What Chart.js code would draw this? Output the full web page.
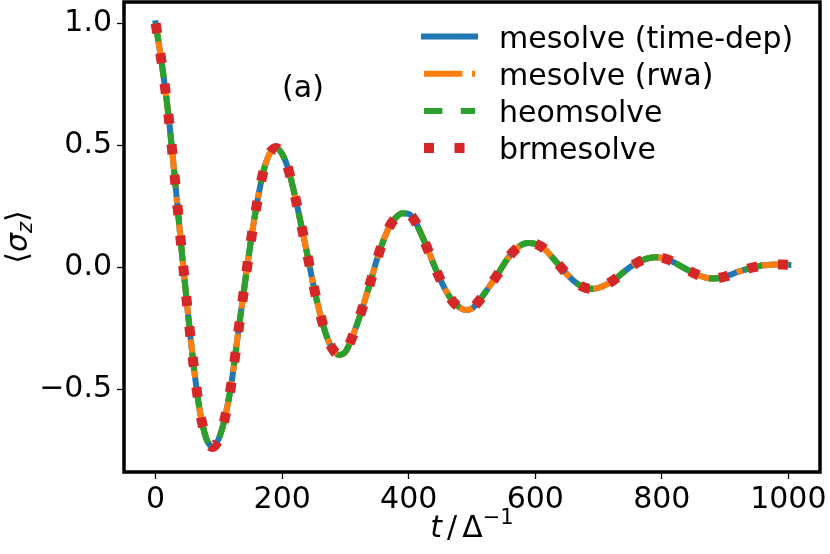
<!DOCTYPE html>
<html>
<head>
<meta charset="utf-8">
<script src="https://cdn.jsdelivr.net/npm/chart.js@4"></script>
<style>
  html, body { margin: 0; padding: 0; background: #fff; }
  canvas { display: block; }
</style>
</head>
<body>
<canvas id="chart" width="830" height="554"></canvas>
<script>
// time in units of 1/Delta
const times = [
  0, 10, 20, 30, 40, 50, 60, 70, 80, 90,
  100, 110, 120, 130, 140, 150, 160, 170, 180, 190,
  200, 210, 220, 230, 240, 250, 260, 270, 280, 290,
  300, 310, 320, 330, 340, 350, 360, 370, 380, 390,
  400, 410, 420, 430, 440, 450, 460, 470, 480, 490,
  500, 510, 520, 530, 540, 550, 560, 570, 580, 590,
  600, 610, 620, 630, 640, 650, 660, 670, 680, 690,
  700, 710, 720, 730, 740, 750, 760, 770, 780, 790,
  800, 810, 820, 830, 840, 850, 860, 870, 880, 890,
  900, 910, 920, 930, 940, 950, 960, 970, 980, 990,
  1000
]

// <sigma_z> (all four solvers agree)
const sigmaZ = [
  1.00, 0.83, 0.63, 0.375, 0.10, -0.16, -0.40, -0.59, -0.70, -0.735,
  -0.70, -0.61, -0.47, -0.275, -0.085, 0.10, 0.26, 0.39, 0.465, 0.49,
  0.465, 0.40, 0.295, 0.175, 0.05, -0.08, -0.19, -0.28, -0.335, -0.358,
  -0.345, -0.29, -0.22, -0.14, -0.055, 0.035, 0.11, 0.17, 0.205, 0.222,
  0.22, 0.19, 0.135, 0.075, 0.01, -0.05, -0.10, -0.14, -0.163, -0.174,
  -0.168, -0.14, -0.105, -0.068, -0.03, 0.012, 0.05, 0.077, 0.095, 0.10,
  0.097, 0.085, 0.062, 0.032, 0.003, -0.027, -0.053, -0.072, -0.084, -0.087,
  -0.083, -0.073, -0.058, -0.04, -0.018, 0.002, 0.018, 0.031, 0.039, 0.042,
  0.04, 0.032, 0.02, 0.006, -0.009, -0.022, -0.034, -0.042, -0.045, -0.043,
  -0.037, -0.028, -0.018, -0.01, -0.002, 0.004, 0.009, 0.011, 0.012, 0.012,
  0.011
]

const meTimeDep = sigmaZ
const meRwa = sigmaZ
const heom = sigmaZ
const brme = sigmaZ

const seriesLabels = ['mesolve (time-dep)', 'mesolve (rwa)', 'heomsolve', 'brmesolve']
const xTicks = [0, 200, 400, 600, 800, 1000]
const yTicks = [-0.5, 0.0, 0.5, 1.0]

const FONT = '"DejaVu Sans", sans-serif'
const pts = vals => times.map((t, i) => ({ x: t, y: vals[i] }))

// frame, legend, panel label and the math axis titles
const decorations = {
  id: 'decorations',
  afterDraw(chart) {
    const ctx = chart.ctx
    const a = chart.chartArea
    ctx.save()

    ctx.strokeStyle = '#000'
    ctx.lineWidth = 3.5
    ctx.setLineDash([])
    ctx.strokeRect(a.left, a.top, a.right - a.left, a.bottom - a.top)

    // legend
    chart.data.datasets.forEach((ds, i) => {
      const y = 36.5 + i * 37.2
      ctx.beginPath()
      ctx.setLineDash(ds.borderDash || [])
      ctx.lineCap = ds.borderCapStyle || 'butt'
      ctx.lineWidth = ds.borderWidth
      ctx.strokeStyle = ds.borderColor
      ctx.moveTo(424, y)
      ctx.lineTo(475, y)
      ctx.stroke()
      ctx.setLineDash([])
      ctx.fillStyle = '#000'
      ctx.font = '30px ' + FONT
      ctx.textAlign = 'left'
      ctx.textBaseline = 'alphabetic'
      ctx.fillText(ds.label, 499, y + 11)
    })

    ctx.fillStyle = '#000'
    ctx.font = '30px ' + FONT
    ctx.textAlign = 'center'
    ctx.textBaseline = 'alphabetic'
    ctx.fillText('(a)', 303, 97)

    // x title: t / Δ^-1
    drawRuns(ctx, [
      { t: 't', f: 'italic 30px ' + FONT },
      { gap: 5 },
      { t: '/', f: '30px ' + FONT },
      { gap: 5 },
      { t: 'Δ', f: '30px ' + FONT },
      { t: '\u22121', f: '21px ' + FONT, dy: -13 }
    ], (a.left + a.right) / 2, 537)

    // y title: <sigma_z>
    ctx.save()
    ctx.translate(27, (a.top + a.bottom) / 2)
    ctx.rotate(-Math.PI / 2)
    drawRuns(ctx, [
      { t: '\u27e8', f: '30px ' + FONT },
      { t: 'σ', f: 'italic 30px ' + FONT },
      { t: 'z', f: 'italic 21px ' + FONT, dy: 5 },
      { t: '\u27e9', f: '30px ' + FONT }
    ], 0, 0)
    ctx.restore()

    ctx.restore()
  }
}

function drawRuns(ctx, runs, cx, baseline) {
  let total = 0
  runs.forEach(r => {
    if (r.gap) { total += r.gap; return }
    ctx.font = r.f
    r.w = ctx.measureText(r.t).width
    total += r.w
  })
  let x = cx - total / 2
  ctx.textAlign = 'left'
  ctx.textBaseline = 'alphabetic'
  ctx.fillStyle = '#000'
  runs.forEach(r => {
    if (r.gap) { x += r.gap; return }
    ctx.font = r.f
    ctx.fillText(r.t, x, baseline + (r.dy || 0))
    x += r.w
  })
}

const tickGrid = {
  display: true,
  drawOnChartArea: false,
  drawTicks: true,
  tickLength: 7,
  tickWidth: 1.3,
  tickColor: '#000'
}

new Chart(document.getElementById('chart').getContext('2d'), {
  type: 'line',
  data: {
    datasets: [
      {
        label: seriesLabels[0], data: pts(meTimeDep),
        borderColor: '#1f77b4', borderWidth: 6, borderCapStyle: 'square', order: 4
      },
      {
        label: seriesLabels[1], data: pts(meRwa),
        borderColor: '#ff7f0e', borderWidth: 6, borderDash: [38.4, 9.6, 6, 9.6], order: 3
      },
      {
        label: seriesLabels[2], data: pts(heom),
        borderColor: '#2ca02c', borderWidth: 6, borderDash: [18.4, 18.4], order: 2
      },
      {
        label: seriesLabels[3], data: pts(brme),
        borderColor: '#d62728', borderWidth: 10, borderDash: [10, 20.5], order: 1
      }
    ]
  },
  options: {
    responsive: false,
    animation: false,
    devicePixelRatio: 1,
    layout: { padding: { top: 2, right: 10, left: 0, bottom: 0 } },
    elements: {
      point: { radius: 0 },
      line: { cubicInterpolationMode: 'monotone', borderJoinStyle: 'round', fill: false }
    },
    plugins: { legend: { display: false }, tooltip: { enabled: false } },
    scales: {
      x: {
        type: 'linear',
        min: -50,
        max: 1050,
        afterBuildTicks: s => { s.ticks = xTicks.map(v => ({ value: v })) },
        afterFit: s => { s.height = 82; s.paddingLeft = 0; s.paddingRight = 0 },
        grid: tickGrid,
        border: { display: false },
        ticks: {
          autoSkip: false, maxRotation: 0, padding: 3,
          color: '#000', font: { family: FONT, size: 30 },
          callback: v => String(v)
        }
      },
      y: {
        type: 'linear',
        min: -0.8375,
        max: 1.0875,
        afterBuildTicks: s => { s.ticks = yTicks.map(v => ({ value: v })) },
        afterFit: s => { s.width = 124; s.paddingTop = 0; s.paddingBottom = 0 },
        grid: tickGrid,
        border: { display: false },
        ticks: {
          autoSkip: false, padding: 5,
          color: '#000', font: { family: FONT, size: 30 },
          callback: v => (v < 0 ? '\u2212' : '') + Math.abs(v).toFixed(1)
        }
      }
    }
  },
  plugins: [decorations]
})
</script>
</body>
</html>
